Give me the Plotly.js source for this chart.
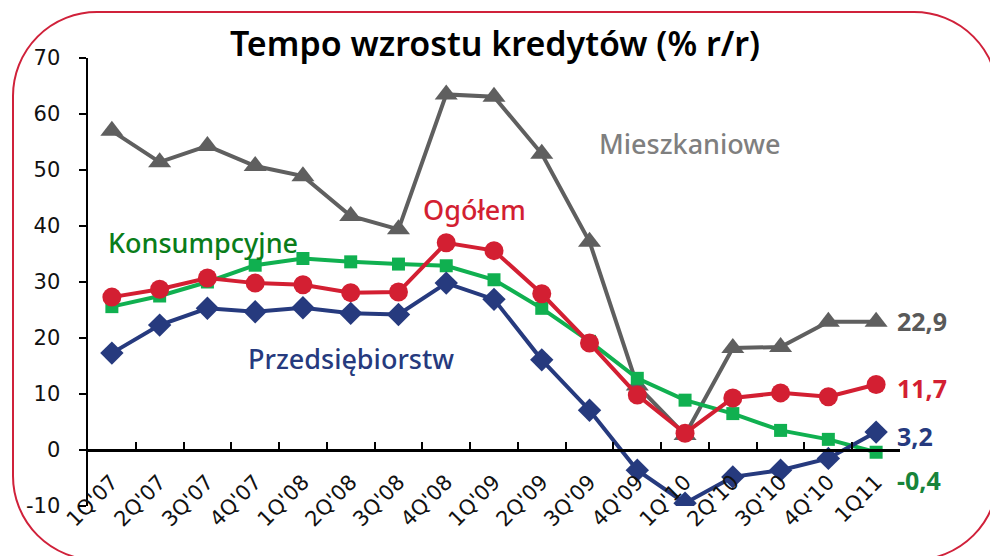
<!DOCTYPE html>
<html>
<head>
<meta charset="utf-8">
<script src="https://cdn.plot.ly/plotly-3.0.1.min.js"></script>
<style>
html,body{margin:0;padding:0;width:990px;height:556px;overflow:hidden;background:#fff;}
#frame{position:absolute;left:12px;top:11px;width:983px;height:546px;border:2.5px solid #d0213a;border-radius:85px;}
#chart{position:absolute;left:0;top:0;width:990px;height:556px;}
</style>
</head>
<body>
<div id="frame"></div>
<div id="chart"></div>
<script>
var categories = ["1Q'07","2Q'07","3Q'07","4Q'07","1Q'08","2Q'08","3Q'08","4Q'08","1Q'09","2Q'09","3Q'09","4Q'09","1Q'10","2Q'10","3Q'10","4Q'10","1Q11"];
var mieszkaniowe = [57.0,51.4,54.3,50.7,48.9,41.8,39.4,63.5,63.1,52.9,37.2,11.5,2.7,18.2,18.4,22.9,22.9];
var ogolem = [27.3,28.7,30.7,29.8,29.5,28.1,28.2,37.0,35.6,27.9,19.1,9.8,3.0,9.3,10.2,9.5,11.7];
var konsumpcyjne = [25.6,27.5,30.0,33.0,34.2,33.6,33.2,32.9,30.4,25.3,19.4,12.8,8.9,6.5,3.5,1.9,-0.4];
var przedsiebiorstw = [17.3,22.3,25.3,24.7,25.4,24.4,24.2,29.8,26.9,16.1,7.1,-3.6,-9.5,-4.8,-3.6,-1.5,3.2];
var yTicks = [-10,0,10,20,30,40,50,60,70];
var yTickText = ["-10","0","10","20","30","40","50","60","70"];

var cGray = '#5f5f5f', cRed = '#d31f32', cGreen = '#10b050', cNavy = '#263a7e';
var lastIdx = categories.length - 1;
function fmt(v){ return v.toFixed(1).replace('.', ','); }

var traces = [
  {x: categories, y: mieszkaniowe, type:'scatter', mode:'lines+markers', name:'Mieszkaniowe',
   line:{color:cGray, width:4}, marker:{symbol:'triangle-up', size:20, color:cGray}},
  {x: categories, y: konsumpcyjne, type:'scatter', mode:'lines+markers', name:'Konsumpcyjne',
   line:{color:cGreen, width:4}, marker:{symbol:'square', size:13, color:cGreen}},
  {x: categories, y: przedsiebiorstw, type:'scatter', mode:'lines+markers', name:'Przedsiębiorstw',
   line:{color:cNavy, width:4}, marker:{symbol:'diamond', size:18, color:cNavy}},
  {x: categories, y: ogolem, type:'scatter', mode:'lines+markers', name:'Ogółem',
   line:{color:cRed, width:4}, marker:{symbol:'circle', size:19, color:cRed}}
];

var lblFont = 'Noto Sans, Open Sans, sans-serif';
var annotations = [
  {x:12.1, y:54.8, text:'Mieszkaniowe', color:'#7f7f7f'},
  {x:7.6, y:42.9, text:'Ogółem', color:cRed},
  {x:1.9, y:37.0, text:'Konsumpcyjne', color:'#0a7d1a'},
  {x:5.0, y:16.4, text:'Przedsiębiorstw', color:cNavy}
].map(function(a){
  return {x:a.x, y:a.y, xref:'x', yref:'y', text:a.text, showarrow:false,
    font:{family:lblFont, size:27, color:a.color, weight:500}, xanchor:'center', yanchor:'middle'};
});
var valueLabels = [
  {v: mieszkaniowe[lastIdx], y:23.0, color:'#595959'},
  {v: ogolem[lastIdx], y:11.1, color:cRed},
  {v: przedsiebiorstw[lastIdx], y:2.5, color:cNavy},
  {v: konsumpcyjne[lastIdx], y:-5.4, color:'#17843a'}
];
valueLabels.forEach(function(l){
  annotations.push({x:16.4, y:l.y, xref:'x', yref:'y', text:fmt(l.v), showarrow:false,
    font:{family:lblFont, size:25, color:l.color, weight:700}, xanchor:'left', yanchor:'middle'});
});

var layout = {
  width:990, height:556,
  margin:{l:88, r:90, t:58, b:50},
  paper_bgcolor:'rgba(0,0,0,0)', plot_bgcolor:'rgba(0,0,0,0)',
  showlegend:false,
  title:{text:'Tempo wzrostu kredytów (% r/r)', x:0.5, xanchor:'center', y:0.92, yanchor:'middle',
    font:{family:lblFont, size:34, color:'#000', weight:600}},
  xaxis:{type:'category', anchor:'free', position:0.125, showline:true, linecolor:'#000', linewidth:2.5,
    ticks:'inside', tickson:'boundaries', ticklen:7, tickwidth:2, tickcolor:'#000',
    tickangle:-45, showgrid:false, zeroline:false, ticklabelstandoff:10,
    tickfont:{family:'DejaVu Sans, sans-serif', size:21, color:'#111'}, range:[-0.5, 16.5]},
  yaxis:{range:[-10,70], tickvals:yTicks, ticktext:yTickText, showline:true, linecolor:'#000', linewidth:2.5,
    ticks:'outside', ticklen:7, tickwidth:2, tickcolor:'#000', showgrid:false, zeroline:false,
    ticklabelstandoff:14,
    tickfont:{family:'DejaVu Sans, sans-serif', size:21, color:'#111'}},
  annotations: annotations
};

Plotly.newPlot('chart', traces, layout, {displayModeBar:false, staticPlot:true});
</script>
</body>
</html>
